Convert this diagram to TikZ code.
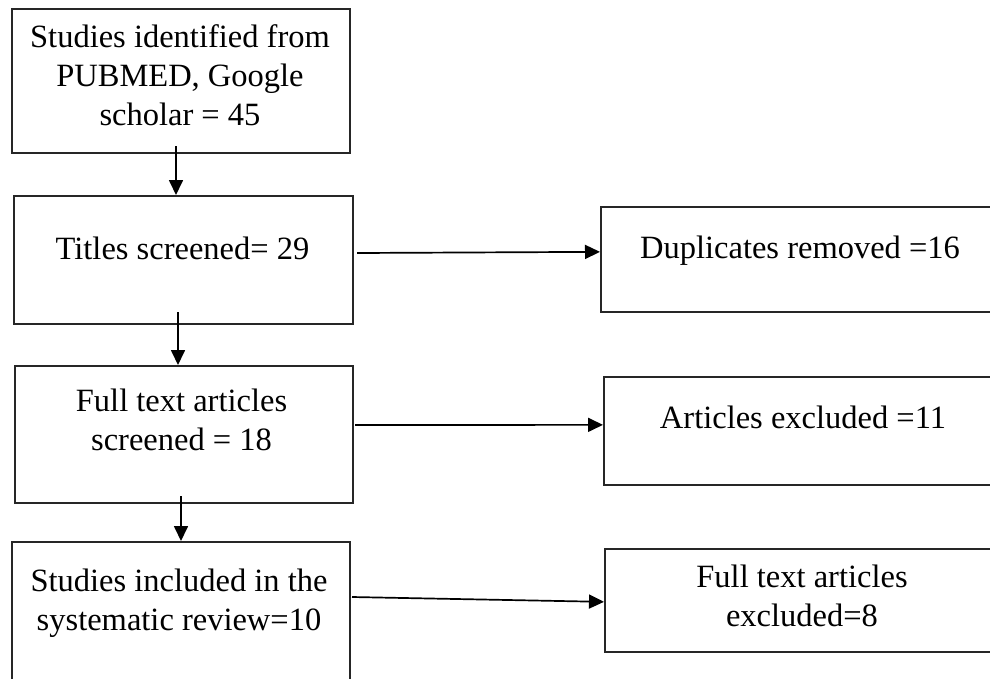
\documentclass[tikz,border=0pt]{standalone}
\usepackage{fontspec}
\setmainfont{Liberation Serif}
\usetikzlibrary{arrows.meta,calc}
\begin{document}
\begin{tikzpicture}[x=1pt,y=-1pt,
  box/.style={draw=black!85, line width=1.7pt, anchor=north west, inner sep=0pt},
  lbl/.style={anchor=north, align=center, inner sep=0pt, font=\fontsize{32.5}{39}\selectfont},
  arr/.style={draw=black, line width=1.7pt, -{Triangle[length=15pt,width=14pt]}}]
\useasboundingbox (0,0) rectangle (990,678);
\fill[white] (0,0) rectangle (990,678);
\clip (0,0) rectangle (990,678);
% boxes
\node[box, minimum width=338pt, minimum height=144pt] (b1) at (11,8) {};
\node[box, minimum width=339pt, minimum height=128pt] (b2) at (13,195) {};
\node[box, minimum width=338pt, minimum height=137pt] (b3) at (14,365) {};
\node[box, minimum width=338pt, minimum height=179pt] (b4) at (11,541) {};
\node[box, minimum width=410pt, minimum height=105pt] (b5) at (600,206) {};
\node[box, minimum width=407pt, minimum height=108pt] (b6) at (603,376) {};
\node[box, minimum width=406pt, minimum height=103pt] (b7) at (604,548) {};
% labels
\node[lbl] (t1) at (180,24.5) {Studies identified from\\PUBMED, Google\\scholar = 45};
\node[lbl] (t2) at (182.5,237) {Titles screened= 29};
\node[lbl] (t3) at (181.5,389) {Full text articles\\screened = 18};
\node[lbl] (t4) at (179,569) {Studies included in the\\systematic review=10};
\node[lbl] (t5) at (800,236) {Duplicates removed =16};
\node[lbl] (t6) at (803,406) {Articles excluded =11};
\node[lbl] (t7) at (802,565) {Full text articles\\excluded=8};
% connectors
\coordinate (s12) at (176,146);
\coordinate (s23) at (178,312);
\coordinate (s34) at (181,496);
\coordinate (s25) at (357,253);
\coordinate (s36) at (355,425);
\coordinate (s47) at (352,597);
\draw[arr] (s12) -- (s12 |- b2.north);
\draw[arr] (s23) -- (s23 |- b3.north);
\draw[arr] (s34) -- (s34 |- b4.north);
\draw[arr] (s25) -- ([yshift=7.5pt]b5.west);
\draw[arr] (s36) -- ([yshift=6pt]b6.west);
\draw[arr] (s47) -- ([yshift=-1.5pt]b7.west);
\end{tikzpicture}
\end{document}
